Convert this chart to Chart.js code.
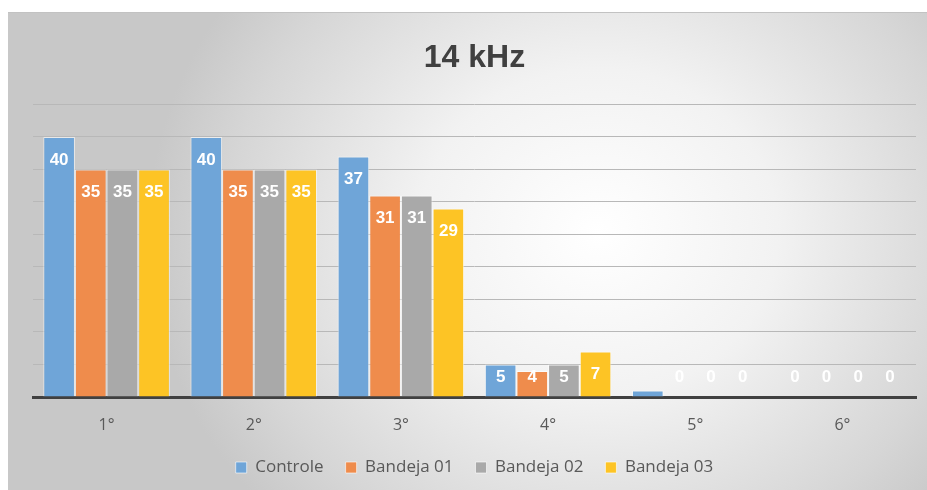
<!DOCTYPE html>
<html>
<head>
<meta charset="utf-8">
<script src="https://cdn.jsdelivr.net/npm/chart.js@4.4.1/dist/chart.umd.min.js"></script>
<style>
  html, body { margin: 0; padding: 0; background: #ffffff; }
  #wrap {
    position: absolute; left: 8px; top: 12px; width: 919px; height: 478px;
    background: radial-gradient(ellipse 450px 410px at 590px 220px, #ffffff 0%, #f2f2f2 40%, #d6d6d6 82%, #c8c8c8 100%);
    border-top: 1px solid #c2c2c2;
    box-sizing: border-box;
  }
</style>
</head>
<body>
<div id="wrap"><canvas id="chart" width="919" height="477"></canvas></div>
<script>
const categories = ['1°', '2°', '3°', '4°', '5°', '6°'];
const seriesNames = ['Controle', 'Bandeja 01', 'Bandeja 02', 'Bandeja 03'];
const controle = [40, 40, 37, 5, 1, 0];
const bandeja01 = [35, 35, 31, 4, 0, 0];
const bandeja02 = [35, 35, 31, 5, 0, 0];
const bandeja03 = [35, 35, 29, 7, 0, 0];
const colors = ['#6fa5d8', '#ef8c4c', '#a9a9a9', '#fdc425'];

// labels drawn inside the top of each bar, Excel style
const barLabels = {
    id: 'barLabels',
    afterDatasetsDraw(chart) {
        const ctx = chart.ctx;
        const base = chart.scales.y.getPixelForValue(0);
        ctx.save();
        ctx.fillStyle = '#ffffff';
        ctx.font = 'bold 17px "Liberation Sans", Arial, sans-serif';
        ctx.textAlign = 'center';
        ctx.textBaseline = 'middle';
        chart.data.datasets.forEach((ds, i) => {
            chart.getDatasetMeta(i).data.forEach((bar, j) => {
                if (ds.data[j] > 0 && ds.data[j] < 2) return;
                let y = Math.min(bar.y + 23, base - 20);
                ctx.fillText(ds.data[j], bar.x, y);
            });
        });
        ctx.restore();
    }
};

new Chart(document.getElementById('chart'), {
    type: 'bar',
    data: {
        labels: categories,
        datasets: [controle, bandeja01, bandeja02, bandeja03].map((d, i) => ({
            label: seriesNames[i],
            data: d,
            backgroundColor: colors[i],
            borderColor: 'rgba(255,255,255,0.6)',
            borderWidth: 1,
            categoryPercentage: 0.86,
            barPercentage: 1.0
        }))
    },
    options: {
        responsive: false,
        animation: false,
        layout: { padding: { left: 25, right: 11, top: 0, bottom: 4 } },
        plugins: {
            title: {
                display: true,
                text: '14 kHz',
                color: '#404040',
                font: { family: '"Liberation Sans", Arial, sans-serif', size: 32, weight: 'bold' },
                padding: { top: 26, bottom: 27 }
            },
            legend: {
                position: 'bottom',
                labels: {
                    color: '#595959',
                    font: { family: '"Open Sans", sans-serif', size: 17 },
                    boxWidth: 11,
                    boxHeight: 11,
                    padding: 22
                }
            },
            tooltip: { enabled: false }
        },
        scales: {
            x: {
                grid: { display: false, drawTicks: false },
                border: { color: '#404040', width: 3 },
                ticks: { color: '#595959', font: { family: '"Open Sans", sans-serif', size: 16 }, padding: 19 },
                afterFit(scale) { scale.height = 40; }
            },
            y: {
                min: 0,
                max: 45,
                ticks: { stepSize: 5, display: false },
                grid: { color: '#b8b8b8', lineWidth: 1, drawTicks: false },
                border: { display: false }
            }
        }
    },
    plugins: [barLabels]
});
</script>
</body>
</html>
